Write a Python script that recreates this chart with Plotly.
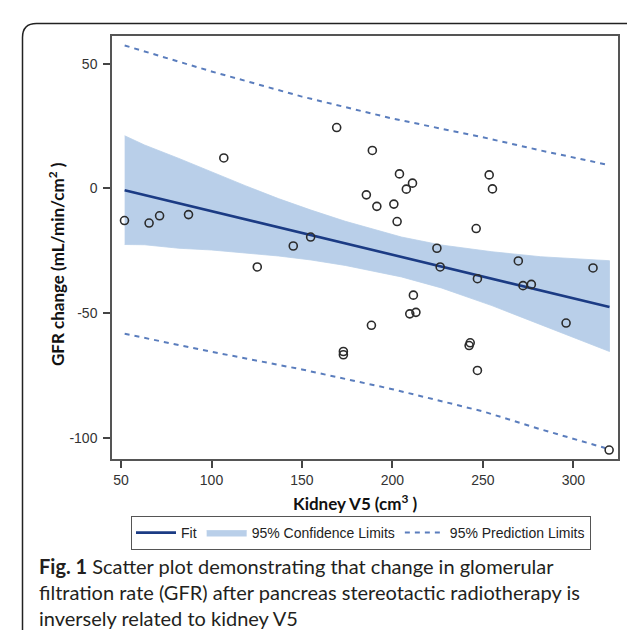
import plotly.graph_objects as go

# ---------------- data ----------------
kidney_v5 = [51.9, 65.5, 71.3, 87.3, 106.8, 125.3, 145.2, 154.8, 169.2, 172.9,
             172.9, 185.6, 188.9, 191.4, 188.4, 200.8, 202.6, 203.9, 207.7, 211.1,
             209.6, 213.0, 211.6, 224.6, 226.4, 242.4, 243.0, 246.3, 247.0, 247.0,
             253.5, 255.3, 269.6, 272.2, 276.8, 296.0, 310.9, 319.8]
gfr_change = [-12.9, -13.9, -11.0, -10.5, 12.2, -31.5, -23.1, -19.5, 24.4, -65.4,
              -66.7, -2.6, 15.2, -7.2, -54.9, -6.3, -13.3, 5.8, -0.3, 2.1,
              -50.3, -49.7, -42.8, -24.0, -31.5, -63.0, -61.9, -16.1, -36.2, -73.0,
              5.4, -0.2, -29.1, -39.0, -38.5, -54.0, -31.9, -104.9]

fit_x = [52, 320]
fit_y = [-0.7, -47.6]

conf_x = [52, 63, 82, 100, 119, 137, 155, 174, 205, 227, 255, 282, 320]
conf_upper = [21.1, 17.4, 12.0, 6.5, 1.0, -4.1, -8.7, -13.2, -19.5, -22.7, -25.4, -27.4, -29.0]
conf_lower = [-22.5, -22.6, -24.0, -24.7, -25.8, -27.1, -28.7, -30.9, -35.5, -39.9, -47.0, -54.6, -65.4]

pred_x = [52, 100, 150, 200, 250, 282, 320]
pred_upper = [57.3, 46.9, 36.8, 28.0, 20.5, 15.2, 9.3]
pred_lower = [-58.3, -65.5, -72.6, -80.5, -89.4, -96.6, -104.6]

x_ticks = [50, 100, 150, 200, 250, 300]
x_tick_labels = ['50', '100', '150', '200', '250', '300']
y_ticks = [50, 0, -50, -100]
y_tick_labels = ['50', '0', '-50', '-100']

x_title = '<b>Kidney V5 (cm<sup>3</sup> )</b>'
y_title = '<b>GFR change (mL/min/cm<sup>2</sup> )</b>'
caption = ('<b>Fig. 1</b> Scatter plot demonstrating that change in glomerular<br>'
           'filtration rate (GFR) after pancreas stereotactic radiotherapy is<br>'
           'inversely related to kidney V5')

# ---------------- layout helpers ----------------
W, H = 635, 630
ML, MR, MT, MB = 104, 25, 28, 179
PW, PH = W - ML - MR, H - MT - MB


def pxx(px):
    return (px - ML) / PW


def pxy(py):
    return (H - MB - py) / PH


fig = go.Figure()

fig.add_trace(go.Scatter(
    x=conf_x + conf_x[::-1], y=conf_upper + conf_lower[::-1],
    fill='toself', fillcolor='#b9cfe9', mode='lines',
    line=dict(width=0.8, color='#b9cfe9'),
    name='95% Confidence Limits', legendrank=2, hoverinfo='skip'))

fig.add_trace(go.Scatter(
    x=fit_x, y=fit_y, mode='lines', line=dict(color='#1b3b84', width=2.6),
    name='Fit', legendrank=1))

fig.add_trace(go.Scatter(
    x=pred_x, y=pred_upper, mode='lines',
    line=dict(color='#5a7dbd', width=2, dash='5px,5px'),
    name='95% Prediction Limits', legendgroup='pred', legendrank=3))
fig.add_trace(go.Scatter(
    x=pred_x, y=pred_lower, mode='lines',
    line=dict(color='#5a7dbd', width=2, dash='5px,5px'),
    name='95% Prediction Limits', legendgroup='pred', showlegend=False))

fig.add_trace(go.Scatter(
    x=kidney_v5, y=gfr_change, mode='markers', showlegend=False,
    marker=dict(symbol='circle-open', size=8, color='#2b2b2b',
                line=dict(width=1.6, color='#2b2b2b'))))

axis_common = dict(showgrid=False, zeroline=False, showline=True, mirror=True,
                   linecolor='#555555', linewidth=1.5, ticks='outside', ticklen=7,
                   tickwidth=1.5, tickcolor='#444444',
                   tickfont=dict(family='Liberation Sans, Arial', size=14, color='#333333'))

fig.update_xaxes(range=[45, 324.7], tickmode='array', tickvals=x_ticks,
                 ticktext=x_tick_labels, ticklabelstandoff=0, **axis_common)
fig.update_yaxes(range=[-108.5, 61.1], tickmode='array', tickvals=y_ticks,
                 ticktext=y_tick_labels, ticklabelstandoff=3, **axis_common)

# outer rounded frame of the figure panel
L, T, R, B, r = 14.5, 15.5, 636, 660, 14
path = (f"M {pxx(L)} {pxy(B)} L {pxx(L)} {pxy(T + r)} "
        f"Q {pxx(L)} {pxy(T)} {pxx(L + r)} {pxy(T)} "
        f"L {pxx(R - r)} {pxy(T)} Q {pxx(R)} {pxy(T)} {pxx(R)} {pxy(T + r)} "
        f"L {pxx(R)} {pxy(B)}")

title_font = dict(family='Lato, Carlito, sans-serif', color='#111111')

fig.update_layout(
    width=W, height=H, margin=dict(l=ML, r=MR, t=MT, b=MB, autoexpand=False),
    paper_bgcolor='white', plot_bgcolor='white',
    showlegend=True,
    legend=dict(orientation='h', x=pxx(353), xanchor='center', y=pxy(508), yanchor='top',
                bordercolor='#555555', borderwidth=1, bgcolor='white',
                font=dict(family='Liberation Sans, Arial', size=14, color='#222222'),
                itemwidth=40, tracegroupgap=0),
    shapes=[dict(type='path', xref='paper', yref='paper', path=path,
                 line=dict(color='#222222', width=1.5))],
    annotations=[
        dict(xref='paper', yref='paper', x=pxx(347.5), y=pxy(494.5),
             xanchor='center', yanchor='middle', showarrow=False,
             font=dict(size=17, **title_font), text=x_title),
        dict(xref='paper', yref='paper', x=pxx(48), y=pxy(256),
             xanchor='center', yanchor='middle', showarrow=False, textangle=-90,
             font=dict(size=17, **title_font), text=y_title),
        dict(xref='paper', yref='paper', x=pxx(29), y=pxy(544), xanchor='left', yanchor='top',
             align='left', showarrow=False,
             font=dict(family='Lato, sans-serif', size=20, color='#231f20'),
             text=caption)],
)

fig.write_html('out.html')
